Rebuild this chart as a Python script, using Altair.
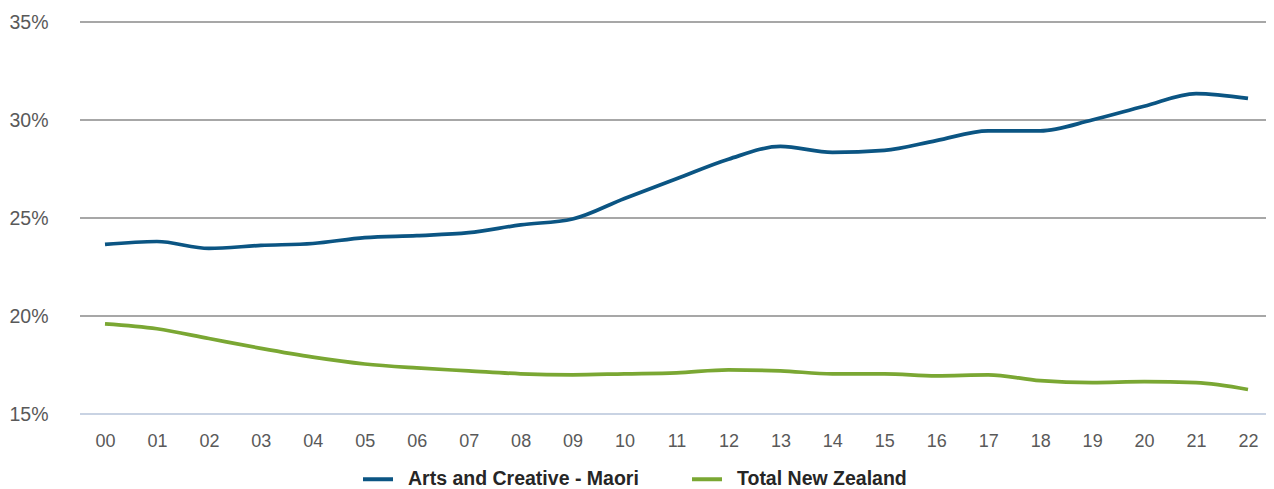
import altair as alt
import pandas as pd

years = ["00", "01", "02", "03", "04", "05", "06", "07", "08", "09", "10", "11",
         "12", "13", "14", "15", "16", "17", "18", "19", "20", "21", "22"]
maori = [23.65, 23.8, 23.45, 23.6, 23.7, 24.0, 24.1, 24.25, 24.65, 24.95, 26.0, 27.0,
         28.0, 28.65, 28.35, 28.45, 28.95, 29.45, 29.45, 30.0, 30.7, 31.35, 31.1]
total_nz = [19.6, 19.35, 18.85, 18.35, 17.9, 17.55, 17.35, 17.2, 17.05, 17.0, 17.05, 17.1,
            17.25, 17.2, 17.05, 17.05, 16.95, 17.0, 16.7, 16.6, 16.65, 16.6, 16.25]
series_names = ["Arts and Creative - Maori", "Total New Zealand"]
series_colors = ["#0b5583", "#7aa733"]
y_ticks = [15, 20, 25, 30, 35]
grid_values = [20, 25, 30, 35]

rows = []
for name, vals in zip(series_names, [maori, total_nz]):
    for y, v in zip(years, vals):
        rows.append({"year": y, "value": v, "series": name})
df = pd.DataFrame(rows)

FONT = "Liberation Sans"
W, H = 1186, 392
yscale = alt.Scale(domain=[15, 35], nice=False, zero=False)

x = alt.X("year:O", sort=years, title=None,
          scale=alt.Scale(type="point", range=[25, 1168], padding=0),
          axis=alt.Axis(labelAngle=0, labelFontSize=18, labelColor="#595959",
                        labelFont=FONT, ticks=False, domain=False, grid=False,
                        labelPadding=18))
y = alt.Y("value:Q", title=None, scale=yscale,
          axis=alt.Axis(values=y_ticks, labelExpr="datum.value + '%'",
                        labelFontSize=19.5, labelColor="#595959", labelFont=FONT,
                        ticks=False, domain=False, grid=False, labelPadding=32))

grid = alt.Chart(pd.DataFrame({"v": grid_values})).mark_rule(
    color="#8a8a8a", strokeWidth=1.5).encode(
    y=alt.Y("v:Q", scale=yscale), x=alt.value(0), x2=alt.value(W))

baseline = alt.Chart(pd.DataFrame({"v": [15]})).mark_rule(
    color="#c9d3e3", strokeWidth=2).encode(
    y=alt.Y("v:Q", scale=yscale), x=alt.value(0), x2=alt.value(W))

lines = alt.Chart(df).mark_line(strokeWidth=3.7, interpolate="monotone").encode(
    x=x, y=y,
    color=alt.Color("series:N", sort=series_names,
                    scale=alt.Scale(domain=series_names, range=series_colors),
                    legend=alt.Legend(title=None, orient="none", direction="horizontal",
                                      legendX=281, legendY=440,
                                      symbolType="stroke", symbolSize=900,
                                      symbolStrokeWidth=4, labelFontSize=19.5,
                                      labelFontWeight="bold", labelColor="#262626",
                                      labelFont=FONT, columnPadding=45,
                                      labelOffset=13, labelLimit=400)),
)

chart = alt.layer(grid, baseline, lines).properties(
    width=W, height=H,
    autosize=alt.AutoSizeParams(type="none"),
    padding={"left": 72, "top": 14, "right": 0, "bottom": 75},
).configure(font=FONT).configure_view(stroke=None)

chart.save("out.html", embed_options={"renderer": "svg", "actions": False})
